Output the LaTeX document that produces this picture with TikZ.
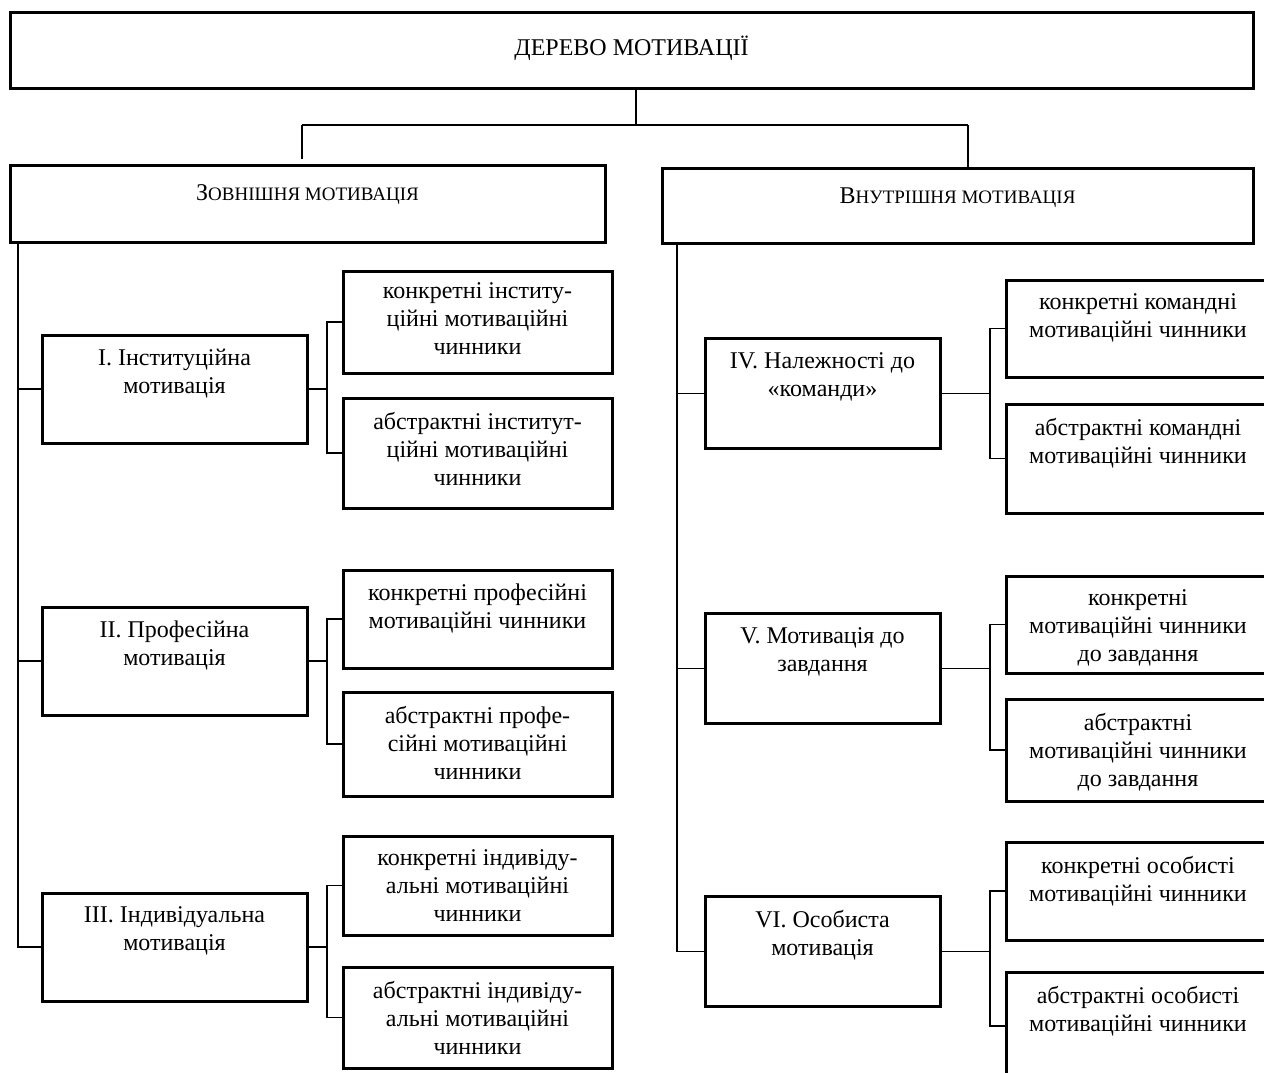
\documentclass[tikz,border=0pt]{standalone}
\usepackage{fontspec}
\setmainfont{Liberation Serif}
\usepackage{tikz}
\usetikzlibrary{positioning,calc}

\begin{document}
\begin{tikzpicture}[
    x=0.5pt, y=-0.5pt,
    frame/.style={rectangle, draw=black, line width=1.5pt, inner sep=0pt, fill=white},
    txt/.style={anchor=north, yshift=-7.5pt, inner sep=0pt, align=center,
        font=\fontsize{12}{14}\selectfont},
    catL/.style={frame, minimum width=132.5pt, minimum height=54pt},
    catR/.style={frame, minimum width=117.5pt, minimum height=55pt},
    subL/.style={frame, minimum width=134.5pt},
    subR/.style={frame, minimum width=132pt},
    link/.style={line width=0.8pt},
    bar/.style={line width=1.2pt},
]
\useasboundingbox (0,0) rectangle (1264,1072);
\clip (0,0) rectangle (1264,1072);

% top level
\node[frame, minimum width=621.5pt, minimum height=38pt,
    label={[txt, yshift=-5pt]north:ДЕРЕВО МОТИВАЦІЇ}] (tree) at (631.5,50) {};
\node[frame, minimum width=297.5pt, minimum height=38.5pt,
    label={[txt, yshift=-3pt]north:{З{\fontsize{9.5}{14}\selectfont ОВНІШНЯ МОТИВАЦІЯ}}}] (ext) at (307.5,203.5) {};
\node[frame, minimum width=295.5pt, minimum height=37.5pt,
    label={[txt, yshift=-3pt]north:{В{\fontsize{9.5}{14}\selectfont НУТРІШНЯ МОТИВАЦІЯ}}}] (int) at (957.5,205.5) {};

% external motivation
\node[catL, label={[txt]north:{I. Інституційна\\мотивація}}] (inst) at (174.5,389) {};
\node[catL, label={[txt]north:{II. Професійна\\мотивація}}] (prof) at (174.5,661) {};
\node[catL, label={[txt]north:{III. Індивідуальна\\мотивація}}] (indiv) at (174.5,947) {};

\node[subL, minimum height=51pt, label={[txt, yshift=1pt]north:{конкретні інститу-\\ційні мотиваційні\\чинники}}] (instA) at (477.5,322) {};
\node[subL, minimum height=55pt, label={[txt]north:{абстрактні інститут-\\ційні мотиваційні\\чинники}}] (instB) at (477.5,453) {};
\node[subL, minimum height=49pt, label={[txt]north:{конкретні професійні\\мотиваційні чинники}}] (profA) at (477.5,619) {};
\node[subL, minimum height=52pt, label={[txt]north:{абстрактні профе-\\сійні мотиваційні\\чинники}}] (profB) at (477.5,744) {};
\node[subL, minimum height=49.5pt, label={[txt]north:{конкретні індивіду-\\альні мотиваційні\\чинники}}] (indivA) at (477.5,885.5) {};
\node[subL, minimum height=50.5pt, label={[txt]north:{абстрактні індивіду-\\альні мотиваційні\\чинники}}] (indivB) at (477.5,1017.5) {};

% internal motivation
\node[catR, label={[txt]north:{IV. Належності до\\«команди»}}] (team) at (822.5,393.5) {};
\node[catR, label={[txt]north:{V. Мотивація до\\завдання}}] (task) at (822.5,668.5) {};
\node[catR, label={[txt]north:{VI. Особиста\\мотивація}}] (pers) at (822.5,951.5) {};

\node[subR, minimum height=48.5pt, label={[txt]north:{конкретні командні\\мотиваційні чинники}}] (teamA) at (1138,328.5) {};
\node[subR, minimum height=54.5pt, label={[txt]north:{абстрактні командні\\мотиваційні чинники}}] (teamB) at (1138,458.5) {};
\node[subR, minimum height=48.5pt, label={[txt]north:{конкретні\\мотиваційні чинники\\до завдання}}] (taskA) at (1138,624.5) {};
\node[subR, minimum height=51pt, label={[txt]north:{абстрактні\\мотиваційні чинники\\до завдання}}] (taskB) at (1138,750) {};
\node[subR, minimum height=49pt, label={[txt]north:{конкретні особисті\\мотиваційні чинники}}] (persA) at (1138,891) {};
\node[subR, minimum height=54pt, label={[txt]north:{абстрактні особисті\\мотиваційні чинники}}] (persB) at (1138,1026) {};

% connectors
\coordinate (hub) at (636,125);
\coordinate (hubL) at (302,125);
\coordinate (hubR) at (968,125);
\coordinate (trunkL) at (18,0);
\coordinate (trunkR) at (677,0);
\coordinate (forkL) at (327,0);
\coordinate (forkR) at (990,0);

\draw[link] (tree.south -| hub) -- (hub);
\draw[bar] (hubL) -- (hubR);
\draw[link, shorten >=2.5pt] (hubL) -- (hubL |- ext.north);
\draw[link] (hubR) -- (hubR |- int.north);

\draw[link] (trunkL |- ext.south) -- (trunkL |- indiv.west) -- (indiv.west);
\draw[link] (trunkL |- inst.west) -- (inst.west);
\draw[link] (trunkL |- prof.west) -- (prof.west);

\draw[link] (trunkR |- int.south) -- (trunkR |- pers.west) -- (pers.west);
\draw[link] (trunkR |- team.west) -- (team.west);
\draw[link] (trunkR |- task.west) -- (task.west);

\draw[link] (inst.east) -- (inst.east -| forkL);
\draw[link] (instA.west) -- (instA.west -| forkL) -- (instB.west -| forkL) -- (instB.west);
\draw[link] (prof.east) -- (prof.east -| forkL);
\draw[link] (profA.west) -- (profA.west -| forkL) -- (profB.west -| forkL) -- (profB.west);
\draw[link] (indiv.east) -- (indiv.east -| forkL);
\draw[link] (indivA.west) -- (indivA.west -| forkL) -- (indivB.west -| forkL) -- (indivB.west);

\draw[link] (team.east) -- (team.east -| forkR);
\draw[link] (teamA.west) -- (teamA.west -| forkR) -- (teamB.west -| forkR) -- (teamB.west);
\draw[link] (task.east) -- (task.east -| forkR);
\draw[link] (taskA.west) -- (taskA.west -| forkR) -- (taskB.west -| forkR) -- (taskB.west);
\draw[link] (pers.east) -- (pers.east -| forkR);
\draw[link] (persA.west) -- (persA.west -| forkR) -- (persB.west -| forkR) -- (persB.west);
\end{tikzpicture}
\end{document}
